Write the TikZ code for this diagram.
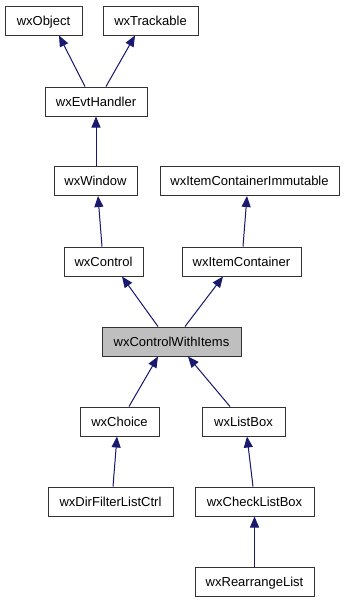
\documentclass[tikz,border=0pt]{standalone}
\usepackage{fontspec}
\setmainfont{Liberation Sans}
\usetikzlibrary{arrows.meta}
\definecolor{edgeblue}{HTML}{191970}
\definecolor{boxline}{HTML}{333333}
\definecolor{hilite}{HTML}{BFBFBF}
\begin{document}
\begin{tikzpicture}[x=1pt,y=-1pt,
  cls/.style={draw=boxline,line width=1pt,fill=white,inner sep=0pt,
    minimum height=29pt,font=\fontsize{13pt}{15pt}\selectfont,
    text height=9.3pt,text depth=0pt},
  current/.style={cls,fill=hilite},
  inherit/.style={draw=edgeblue,line width=1pt,
    -{Triangle[length=11pt,width=9pt]},fill=edgeblue}]
\useasboundingbox (0,0) rectangle (345,603);

% classes
\node[cls,minimum width=77pt]  (obj)   at (43.5,20.5)  {wxObject};
\node[cls,minimum width=95pt]  (trk)   at (150.5,20.5) {wxTrackable};
\node[cls,minimum width=102pt] (evt)   at (96,101.5)   {wxEvtHandler};
\node[cls,minimum width=83pt]  (win)   at (95.5,181)   {wxWindow};
\node[cls,minimum width=179pt] (icim)  at (249.5,181)  {wxItemContainerImmutable};
\node[cls,minimum width=79pt]  (ctl)   at (103.5,261.5) {wxControl};
\node[cls,minimum width=119pt] (ic)    at (241.5,261.5) {wxItemContainer};
\node[current,minimum width=139pt] (cwi) at (171.5,341.5) {wxControlWithItems};
\node[cls,minimum width=79pt]  (choice) at (119.5,421.5) {wxChoice};
\node[cls,minimum width=83pt]  (lbox)  at (243.5,421.5) {wxListBox};
\node[cls,minimum width=125pt] (dfl)   at (110.5,501.5) {wxDirFilterListCtrl};
\node[cls,minimum width=119pt] (clb)   at (254.5,501.5) {wxCheckListBox};
\node[cls,minimum width=119pt] (rl)    at (254.5,581.5) {wxRearrangeList};

% inheritance arrows, child to parent
\draw[inherit] ([xshift=-11pt]evt.north) -- ([xshift=15.5pt]obj.south);
\draw[inherit] ([xshift=10pt]evt.north) -- ([xshift=-15.5pt]trk.south);
\draw[inherit] ([xshift=0.5pt]win.north) -- (evt.south);
\draw[inherit] ([xshift=-1.5pt]ctl.north) -- ([xshift=2.5pt]win.south);
\draw[inherit] ([xshift=1.5pt]ic.north) -- ([xshift=-2.5pt]icim.south);
\draw[inherit] ([xshift=-13.5pt]cwi.north) -- ([xshift=18.5pt]ctl.south);
\draw[inherit] ([xshift=13.5pt]cwi.north) -- ([xshift=-18.5pt]ic.south);
\draw[inherit] ([xshift=9.5pt]choice.north) -- ([xshift=-13.5pt]cwi.south);
\draw[inherit] ([xshift=-13.5pt]lbox.north) -- ([xshift=16.5pt]cwi.south);
\draw[inherit] ([xshift=2.5pt]dfl.north) -- ([xshift=-2.5pt]choice.south);
\draw[inherit] ([xshift=-1.5pt]clb.north) -- ([xshift=3.5pt]lbox.south);
\draw[inherit] (rl.north) -- (clb.south);
\end{tikzpicture}
\end{document}
